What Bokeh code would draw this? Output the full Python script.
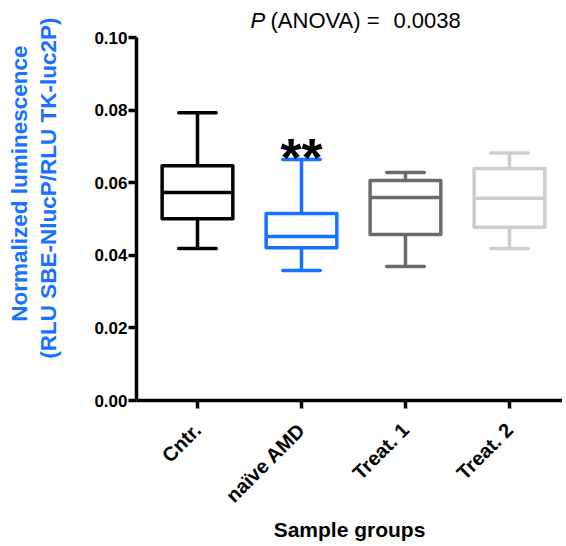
import math
from bokeh.plotting import figure
from bokeh.models import Range1d, FixedTicker, Label, ColumnDataSource, Title, LinearAxis
from bokeh.core.properties import value
from bokeh.embed import file_html
from bokeh.resources import INLINE

# ---- data ----
groups = ["Cntr.", "naïve AMD", "Treat. 1", "Treat. 2"]
whisker_low = [0.0419, 0.0358, 0.0369, 0.0419]
q1 = [0.0501, 0.0421, 0.0457, 0.0477]
median = [0.0573, 0.0452, 0.0559, 0.0557]
q3 = [0.0647, 0.0515, 0.0606, 0.0639]
whisker_high = [0.0793, 0.0664, 0.0628, 0.0682]
colors = ["#000000", "#1672ff", "#6b6b6b", "#cdcdcd"]
y_ticks = [0.00, 0.02, 0.04, 0.06, 0.08, 0.10]
significance = ["", "**", "", ""]

FONT = "Liberation Sans"
BLUE = "#1672ff"

# layout geometry (pixels)
W, H = 562, 546
FRAME_LEFT, FRAME_BOTTOM = 136, 400
AXIS_TOP_PX = 37          # where 0.10 sits
y_max = y_ticks[-1]
y_end = y_max * FRAME_BOTTOM / (FRAME_BOTTOM - AXIS_TOP_PX)

xs = [i + 0.5 for i in range(len(groups))]
box_half = 0.34
cap_half = 0.18

src = ColumnDataSource(dict(
    x=xs,
    left=[x - box_half for x in xs],
    right=[x + box_half for x in xs],
    cap_l=[x - cap_half for x in xs],
    cap_r=[x + cap_half for x in xs],
    lo=whisker_low, q1=q1, med=median, q3=q3, hi=whisker_high,
    color=colors,
))

p = figure(width=W, height=H, output_backend="svg", toolbar_location=None,
           x_range=Range1d(-0.0865, 4.01), y_range=Range1d(0, y_end),
           min_border_left=FRAME_LEFT, min_border_top=0, min_border_right=0,
           min_border_bottom=H - FRAME_BOTTOM)
p.title.visible = False
p.outline_line_color = None
p.xgrid.visible = False
p.ygrid.visible = False
p.background_fill_color = "white"
p.border_fill_color = "white"

LW = 3.5
# boxes
p.quad(left="left", right="right", bottom="q1", top="q3", source=src,
       fill_color="white", fill_alpha=0, line_color="color", line_width=LW,
       line_join="round")
p.segment(x0="left", x1="right", y0="med", y1="med", source=src,
          line_color="color", line_width=LW)
# whiskers
p.segment(x0="x", x1="x", y0="q3", y1="hi", source=src, line_color="color", line_width=LW)
p.segment(x0="x", x1="x", y0="q1", y1="lo", source=src, line_color="color", line_width=LW)
p.segment(x0="cap_l", x1="cap_r", y0="hi", y1="hi", source=src, line_color="color",
          line_width=LW, line_cap="round")
p.segment(x0="cap_l", x1="cap_r", y0="lo", y1="lo", source=src, line_color="color",
          line_width=LW, line_cap="round")

# significance stars
star_src = ColumnDataSource(dict(x=xs, y=whisker_high, t=significance))
p.text(x="x", y="y", text="t", source=star_src, text_align="center",
       text_baseline="alphabetic", y_offset=-2, text_font=value(FONT),
       text_font_style="bold", text_font_size="54px", text_color="black")

# axes
for ax in (p.xaxis[0], p.yaxis[0]):
    ax.axis_line_width = LW
    ax.axis_line_color = "black"
    ax.major_tick_line_width = LW
    ax.major_tick_line_color = "black"
    ax.major_tick_out = 8
    ax.major_tick_in = 0
    ax.minor_tick_line_color = None
    ax.major_label_text_font = FONT
    ax.major_label_text_font_style = "bold"
    ax.major_label_text_color = "black"

p.yaxis.ticker = FixedTicker(ticks=y_ticks)
p.yaxis.bounds = (y_ticks[0], y_ticks[-1])
p.yaxis.major_label_overrides = {t: f"{t:.2f}" for t in y_ticks}
p.yaxis.major_label_standoff = 1
p.yaxis.major_label_text_font_size = "17px"

p.xaxis.ticker = FixedTicker(ticks=xs)
p.xaxis.major_label_overrides = {x: g for x, g in zip(xs, groups)}
p.xaxis.major_label_orientation = math.pi / 4
p.xaxis.major_label_standoff = 18
p.xaxis.major_label_text_font_size = "20px"
p.xaxis.axis_label = "Sample groups"
p.xaxis.axis_label_standoff = 1
p.xaxis.axis_label_text_font = FONT
p.xaxis.axis_label_text_font_style = "bold"
p.xaxis.axis_label_text_font_size = "21px"
p.xaxis.axis_label_text_color = "black"

# invisible spacer axis between the y tick labels and the y title
spacer = LinearAxis(ticker=FixedTicker(ticks=[y_ticks[0]]), axis_line_color=None,
                    major_tick_line_color="white", major_tick_line_alpha=0,
                    minor_tick_line_color=None,
                    major_tick_out=30, major_tick_in=0, major_label_standoff=0,
                    major_label_overrides={y_ticks[0]: ""})
p.add_layout(spacer, "left")

# y axis title (two lines)
p.add_layout(Title(text="(RLU SBE-NlucP/RLU TK-luc2P)", align="right", offset=17,
                   vertical_align="bottom", standoff=2,
                   text_font=FONT, text_font_style="bold", text_font_size="22.5px",
                   text_color=BLUE), "left")
p.add_layout(Title(text="Normalized luminescence", align="right", offset=45,
                   vertical_align="bottom", standoff=2,
                   text_font=FONT, text_font_style="bold", text_font_size="22.5px",
                   text_color=BLUE), "left")

# ANOVA title (inside the frame area, above the y axis end)
p.add_layout(Label(x=114, y=380, x_units="screen", y_units="screen",
                   text="P", text_align="left", text_baseline="alphabetic",
                   text_font=FONT, text_font_style="italic", text_font_size="22px",
                   text_color="black"))
p.add_layout(Label(x=134, y=380, x_units="screen", y_units="screen",
                   text="(ANOVA) =", text_align="left", text_baseline="alphabetic",
                   text_font=FONT, text_font_size="22px", text_color="black"))
p.add_layout(Label(x=257, y=380, x_units="screen", y_units="screen",
                   text="0.0038", text_align="left", text_baseline="alphabetic",
                   text_font=FONT, text_font_size="22px", text_color="black"))

open("out.html", "w").write(file_html(p, INLINE))
